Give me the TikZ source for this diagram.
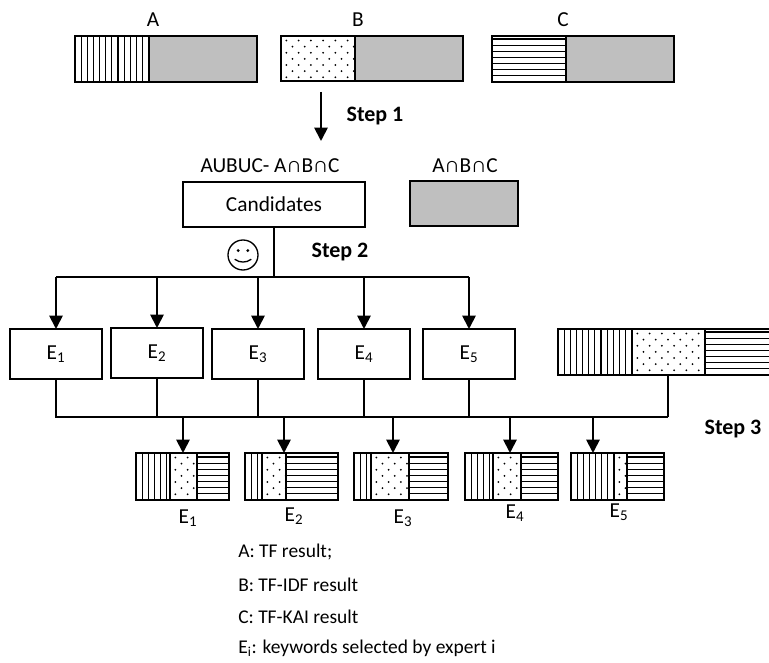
\documentclass[tikz,border=0pt]{standalone}
\usepackage{fontspec}
\setmainfont{Carlito}
\usepackage{xcolor}
\usepackage{tikz}
\usetikzlibrary{arrows.meta,calc}

\begin{document}
\begin{tikzpicture}[
    x=0.75pt, y=-0.75pt,
    cell/.style 2 args={rectangle, draw, line width=1.4pt, inner sep=0pt, outer sep=0pt, anchor=north west, minimum width=#1*0.75pt, minimum height=#2*0.75pt},
    solidcell/.style={fill=black!25},
    vhatch/.style={path picture={
        \foreach \k in {1,...,20}
            \draw[line width=0.85pt] ([xshift=\k*4.6pt]path picture bounding box.south west) -- ([xshift=\k*4.6pt]path picture bounding box.north west);
    }},
    hhatch/.style={path picture={
        \foreach \k in {1,...,10}
            \draw[line width=0.85pt] ([yshift=\k*4.6pt]path picture bounding box.south west) -- ([yshift=\k*4.6pt]path picture bounding box.south east);
    }},
    dotted fill/.style={path picture={
        \foreach \k in {0,...,9}
            \foreach \j in {0,...,4}
                \fill ($(path picture bounding box.north west)+(\k*9.2pt+4pt,-\j*9.2pt-3.4pt)$) circle (0.75pt)
                      ($(path picture bounding box.north west)+(\k*9.2pt-0.6pt,-\j*9.2pt-8pt)$) circle (0.75pt);
    }},
    expert/.style={rectangle, draw, line width=1.3pt, inner sep=0pt, outer sep=0pt, minimum width=69pt, minimum height=37.5pt, font=\fontsize{16}{18}\selectfont},
    label/.style={inner sep=0pt, font=\fontsize{16}{18}\selectfont},
    steplabel/.style={inner sep=0pt, font=\fontsize{16.5}{18}\selectfont\bfseries},
    legend/.style={inner sep=0pt, anchor=west, font=\fontsize{14.6}{16}\selectfont},
    line/.style={draw, line width=1.3pt},
    busline/.style={draw, line width=2.1pt},
    arrowline/.style={draw, line width=1.4pt, -{Triangle[length=10pt,width=10pt]}}
]
\useasboundingbox (0,0) rectangle (769,663);

% Three source lists
\node[label] (la) at (153,20) {A};
\node[label] (lb) at (358,20) {B};
\node[label] (lc) at (563,20) {C};
\node[cell={74}{46}, vhatch] (a1) at (75,36) {};
\node[cell={108}{46}, solidcell] (a2) at (149,36) {};
\node[cell={74}{45}, dotted fill] (b1) at (281,36) {};
\node[cell={108}{45}, solidcell] (b2) at (355,36) {};
\node[cell={74}{46}, hhatch] (c1) at (492,36) {};
\node[cell={108}{46}, solidcell] (c2) at (566,36) {};

% Step 1
\coordinate (s1top) at (321,92);
\coordinate (s1end) at (321,141);
\draw[arrowline] (s1top) -- (s1end);
\node[steplabel] (step1) at (375,116) {Step 1};

% Candidates and common part
\node[label] (union) at (270,166) {AUBUC- A∩B∩C};
\node[label] (common) at (465,166) {A∩B∩C};
\node[cell={182}{45}, font=\fontsize{16}{18}\selectfont] (cand) at (183,182) {Candidates};
\node[cell={108}{45}, solidcell] (gray) at (410,181) {};

% Step 2
\node[circle, draw, line width=1pt, minimum size=22.5pt, inner sep=0pt] (smiley) at (243,255) {};
\fill ($(smiley)+(-3.6pt,3.3pt)$) circle (1.2pt) ($(smiley)+(3.6pt,3.3pt)$) circle (1.2pt);
\draw[line width=1pt] ($(smiley)+(-6.2pt,-3.2pt)$) .. controls ($(smiley)+(-2.5pt,-6pt)$) and ($(smiley)+(2.5pt,-6pt)$) .. ($(smiley)+(6.2pt,-3.2pt)$);
\node[steplabel] (step2) at (340,252) {Step 2};

% Experts
\node[expert] (e1) at (56,354) {E\textsubscript{1}};
\node[expert] (e2) at (157,353) {E\textsubscript{2}};
\node[expert] (e3) at (258,354) {E\textsubscript{3}};
\node[expert] (e4) at (364,354) {E\textsubscript{4}};
\node[expert] (e5) at (469,354) {E\textsubscript{5}};

\coordinate (fork) at (274,277);
\draw[line] (cand.south -| fork) -- (fork);
\draw[line] (e1.north |- fork) -- (e5.north |- fork);
\foreach \n in {e1,e2,e3,e4,e5}
    \draw[arrowline] (\n.north |- fork) -- (\n.north);

% Merged list
\node[cell={74}{46}, vhatch] (m1) at (558,329) {};
\node[cell={73}{46}, dotted fill] (m2) at (632,329) {};
\node[cell={67}{46}, hhatch] (m3) at (705,329) {};

% Step 3
\coordinate (bus) at (668,417);
\draw[line] (e1.south) |- (e2.south |- bus);
\draw[busline] (e2.south |- bus) -- (bus);
\draw[line] (bus) -- (m2.south -| bus);
\foreach \n in {e2,e3,e4,e5}
    \draw[line] (\n.south) -- (\n.south |- bus);
\node[steplabel] (step3) at (733,429) {Step 3};

% Lists of each expert
\node[cell={34}{47}, vhatch] (r1a) at (136,453) {};
\node[cell={27}{47}, dotted fill] (r1b) at (170,453) {};
\node[cell={32}{47}, hhatch] (r1c) at (197,453) {};
\node[cell={17}{47}, vhatch] (r2a) at (245,453) {};
\node[cell={24}{47}, dotted fill] (r2b) at (262,453) {};
\node[cell={52}{47}, hhatch] (r2c) at (286,453) {};
\node[cell={17}{47}, vhatch] (r3a) at (354,453) {};
\node[cell={38}{47}, dotted fill] (r3b) at (371,453) {};
\node[cell={39}{47}, hhatch] (r3c) at (409,453) {};
\node[cell={28}{47}, vhatch] (r4a) at (465,453) {};
\node[cell={28}{47}, dotted fill] (r4b) at (493,453) {};
\node[cell={37}{47}, hhatch] (r4c) at (521,453) {};
\node[cell={43}{47}, vhatch] (r5a) at (571,453) {};
\node[cell={13}{47}, dotted fill] (r5b) at (614,453) {};
\node[cell={37}{47}, hhatch] (r5c) at (627,453) {};

\coordinate (d1) at (183,453);
\coordinate (d2) at (284,453);
\coordinate (d3) at (393,453);
\coordinate (d4) at (510,453);
\coordinate (d5) at (593,453);
\foreach \n in {d1,d2,d3,d4,d5}
    \draw[arrowline] (\n |- bus) -- (\n);

\node[label] (l1) at (188,518) {E\textsubscript{1}};
\node[label] (l2) at (294,516) {E\textsubscript{2}};
\node[label] (l3) at (403,518) {E\textsubscript{3}};
\node[label] (l4) at (515,513) {E\textsubscript{4}};
\node[label] (l5) at (619,512) {E\textsubscript{5}};

% Legend
\node[legend] (lega) at (238,552) {A: TF result;};
\node[legend] (legb) at (238,585) {B: TF-IDF result};
\node[legend] (legc) at (238,617) {C: TF-KAI result};
\node[legend] (lege) at (238,648) {E\textsubscript{i}: keywords selected by expert i};

\end{tikzpicture}
\end{document}
